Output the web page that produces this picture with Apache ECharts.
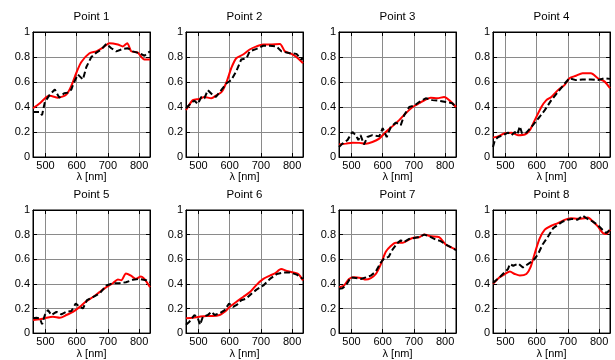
<!DOCTYPE html>
<html><head><meta charset="utf-8">
<script src="https://cdn.jsdelivr.net/npm/echarts@6/dist/echarts.min.js"></script>
<style>html,body{margin:0;padding:0;background:#fff}#c{width:615px;height:360px}</style>
</head><body><div id="c"></div>
<script>
const titles = ['Point 1','Point 2','Point 3','Point 4','Point 5','Point 6','Point 7','Point 8'];
const xTicks = [500, 600, 700, 800];
const xName = 'λ [nm]';

const red1 = [[460,0.39],[482,0.43],[503,0.48],[514,0.49],[540,0.475],[567,0.50],[583,0.57],[600,0.68],[615,0.76],[641,0.83],[663,0.845],[684,0.875],[705,0.91],[732,0.90],[748,0.885],[762,0.91],[775,0.845],[796,0.835],[817,0.78],[835,0.78]];
const blk1 = [[460,0.36],[471,0.36],[482,0.36],[489,0.335],[498,0.44],[514,0.50],[530,0.54],[544,0.475],[560,0.51],[572,0.515],[583,0.54],[590,0.59],[604,0.66],[620,0.62],[631,0.72],[647,0.80],[663,0.835],[679,0.86],[695,0.905],[711,0.87],[727,0.845],[748,0.865],[764,0.87],[780,0.845],[801,0.83],[817,0.81],[827,0.83],[835,0.845]];

const red2 = [[460,0.375],[482,0.455],[503,0.465],[519,0.48],[541,0.47],[558,0.495],[574,0.52],[590,0.60],[605,0.71],[621,0.79],[643,0.82],[664,0.86],[686,0.885],[707,0.90],[729,0.90],[761,0.905],[777,0.845],[798,0.825],[814,0.80],[835,0.75]];
const blk2 = [[460,0.39],[480,0.44],[487,0.45],[498,0.425],[509,0.48],[519,0.47],[530,0.535],[546,0.495],[556,0.48],[573,0.535],[590,0.59],[605,0.615],[621,0.685],[637,0.78],[654,0.79],[664,0.845],[686,0.865],[707,0.89],[729,0.89],[750,0.885],[766,0.845],[793,0.83],[814,0.825],[830,0.78],[835,0.79]];

const red3 = [[460,0.10],[482,0.107],[503,0.115],[525,0.113],[546,0.107],[567,0.12],[589,0.147],[610,0.20],[631,0.245],[653,0.295],[674,0.35],[696,0.40],[717,0.43],[738,0.46],[754,0.475],[775,0.47],[797,0.48],[813,0.455],[835,0.40]];
const blk3 = [[460,0.08],[471,0.107],[487,0.135],[503,0.20],[514,0.175],[522,0.135],[529,0.175],[540,0.10],[551,0.16],[567,0.175],[589,0.165],[600,0.23],[613,0.16],[626,0.24],[642,0.275],[658,0.255],[669,0.335],[685,0.40],[701,0.41],[717,0.44],[738,0.47],[759,0.455],[781,0.45],[802,0.44],[823,0.43],[835,0.40]];

const red4 = [[460,0.155],[477,0.165],[498,0.19],[519,0.195],[540,0.175],[562,0.18],[578,0.215],[594,0.295],[615,0.40],[631,0.455],[647,0.48],[668,0.535],[689,0.575],[705,0.63],[726,0.65],[747,0.67],[774,0.67],[796,0.63],[817,0.605],[835,0.55]];
const blk4 = [[460,0.08],[466,0.135],[477,0.16],[493,0.175],[508,0.195],[519,0.175],[530,0.20],[538,0.18],[546,0.245],[553,0.19],[567,0.195],[588,0.255],[609,0.32],[626,0.375],[647,0.455],[668,0.52],[689,0.585],[705,0.63],[726,0.615],[747,0.62],[774,0.62],[796,0.615],[817,0.63],[835,0.625]];

const red5 = [[460,0.107],[482,0.112],[503,0.125],[524,0.133],[546,0.125],[567,0.147],[588,0.173],[610,0.213],[631,0.26],[652,0.293],[673,0.333],[695,0.373],[716,0.405],[732,0.435],[743,0.43],[758,0.485],[774,0.467],[790,0.44],[806,0.46],[817,0.44],[835,0.373]];
const blk5 = [[460,0.12],[471,0.125],[482,0.12],[489,0.072],[498,0.147],[508,0.187],[519,0.147],[535,0.173],[551,0.152],[567,0.173],[583,0.179],[597,0.24],[610,0.213],[620,0.20],[633,0.267],[652,0.293],[673,0.32],[695,0.387],[716,0.405],[737,0.405],[758,0.413],[780,0.433],[801,0.44],[822,0.43],[835,0.413]];

const red6 = [[460,0.12],[482,0.125],[503,0.133],[525,0.139],[546,0.139],[568,0.147],[584,0.173],[600,0.213],[621,0.253],[643,0.293],[665,0.333],[686,0.392],[708,0.44],[729,0.467],[745,0.485],[765,0.52],[783,0.505],[804,0.493],[820,0.48],[835,0.427]];
const blk6 = [[460,0.067],[471,0.093],[487,0.147],[498,0.12],[505,0.067],[514,0.133],[530,0.147],[541,0.173],[552,0.147],[568,0.16],[584,0.187],[598,0.24],[611,0.213],[624,0.232],[637,0.267],[653,0.28],[670,0.32],[686,0.353],[708,0.387],[729,0.44],[751,0.48],[772,0.493],[793,0.493],[815,0.475],[835,0.44]];

const red7 = [[460,0.373],[476,0.387],[492,0.44],[508,0.453],[530,0.447],[546,0.435],[562,0.447],[578,0.48],[594,0.56],[610,0.66],[626,0.707],[642,0.733],[664,0.733],[680,0.753],[696,0.773],[717,0.779],[733,0.80],[754,0.787],[781,0.779],[802,0.72],[818,0.699],[835,0.68]];
const blk7 = [[460,0.36],[471,0.365],[482,0.387],[498,0.453],[514,0.447],[530,0.44],[546,0.453],[562,0.467],[578,0.50],[594,0.573],[605,0.608],[619,0.619],[632,0.68],[648,0.733],[658,0.753],[669,0.74],[685,0.765],[701,0.773],[717,0.781],[733,0.80],[749,0.787],[770,0.76],[786,0.747],[802,0.72],[818,0.699],[835,0.675]];

const red8 = [[460,0.40],[481,0.453],[498,0.48],[514,0.50],[530,0.48],[546,0.467],[567,0.48],[580,0.533],[593,0.64],[609,0.765],[626,0.84],[647,0.872],[668,0.893],[689,0.92],[710,0.933],[732,0.928],[753,0.933],[764,0.939],[780,0.907],[796,0.867],[812,0.813],[823,0.805],[835,0.84]];
const blk8 = [[460,0.408],[481,0.453],[497,0.493],[508,0.52],[514,0.56],[525,0.547],[541,0.565],[556,0.533],[572,0.56],[588,0.587],[604,0.64],[619,0.72],[637,0.787],[653,0.853],[668,0.88],[684,0.907],[700,0.92],[715,0.928],[731,0.92],[747,0.955],[763,0.928],[779,0.907],[795,0.88],[811,0.84],[823,0.813],[835,0.84]];

const redSets = [red1, red2, red3, red4, red5, red6, red7, red8];
const blkSets = [blk1, blk2, blk3, blk4, blk5, blk6, blk7, blk8];

const colLeft = [33, 186, 339, 493];
const rowTop = [32, 210];
const W = 117, H = 125;
const FONT = 'Liberation Sans, Arial, sans-serif';

const grids = [], xAxes = [], yAxes = [], series = [];
for (let i = 0; i < 8; i++) {
  const r = Math.floor(i / 4), c = i % 4;
  grids.push({left: colLeft[c], top: rowTop[r], width: W, height: H, show: true, borderColor: '#000', borderWidth: 1, backgroundColor: 'transparent'});
}
const tickStyle = {show: true, inside: true, length: 4, lineStyle: {color: '#000', width: 1}};
for (let i = 0; i < 8; i++) {
  xAxes.push({type: 'value', gridIndex: i, position: 'bottom', min: 460, max: 835,
    axisLine: {show: true, onZero: false, lineStyle: {color: '#000', width: 1}},
    axisTick: Object.assign({customValues: xTicks}, tickStyle),
    axisLabel: {customValues: xTicks, color: '#000', fontSize: 11, fontFamily: FONT, margin: 3},
    splitLine: {show: true, lineStyle: {color: '#8a8a8a', width: 1}},
    name: xName, nameLocation: 'middle', nameGap: 14,
    nameTextStyle: {color: '#000', fontSize: 11, fontFamily: FONT}});
  yAxes.push({type: 'value', gridIndex: i, position: 'left', min: 0, max: 1, interval: 0.2,
    axisLine: {show: true, onZero: false, lineStyle: {color: '#000', width: 1}},
    axisTick: tickStyle,
    axisLabel: {color: '#000', fontSize: 11, fontFamily: FONT, margin: 3},
    splitLine: {show: true, lineStyle: {color: '#8a8a8a', width: 1}}});
}
for (let i = 0; i < 8; i++) {
  xAxes.push({type: 'value', gridIndex: i, position: 'top', min: 460, max: 835,
    axisLine: {show: true, onZero: false, lineStyle: {color: '#000', width: 1}},
    axisTick: Object.assign({customValues: xTicks}, tickStyle),
    axisLabel: {show: false}, splitLine: {show: false},
    name: titles[i], nameLocation: 'middle', nameGap: 9,
    nameTextStyle: {color: '#000', fontSize: 11.5, fontFamily: FONT}});
  yAxes.push({type: 'value', gridIndex: i, position: 'right', min: 0, max: 1, interval: 0.2,
    axisLine: {show: true, onZero: false, lineStyle: {color: '#000', width: 1}},
    axisTick: tickStyle, axisLabel: {show: false}, splitLine: {show: false}});
}
for (let i = 0; i < 8; i++) {
  series.push({type: 'line', xAxisIndex: i, yAxisIndex: i, data: redSets[i], showSymbol: false, smooth: 0.25,
    lineStyle: {color: '#ff0000', width: 2}, animation: false, silent: true, z: 2});
  series.push({type: 'line', xAxisIndex: i, yAxisIndex: i, data: blkSets[i], showSymbol: false,
    lineStyle: {color: '#000', width: 2, type: [6, 3]}, animation: false, silent: true, z: 3});
}
const chart = echarts.init(document.getElementById('c'), null, {renderer: 'canvas'});
chart.setOption({animation: false, grid: grids, xAxis: xAxes, yAxis: yAxes, series: series});
</script></body></html>
